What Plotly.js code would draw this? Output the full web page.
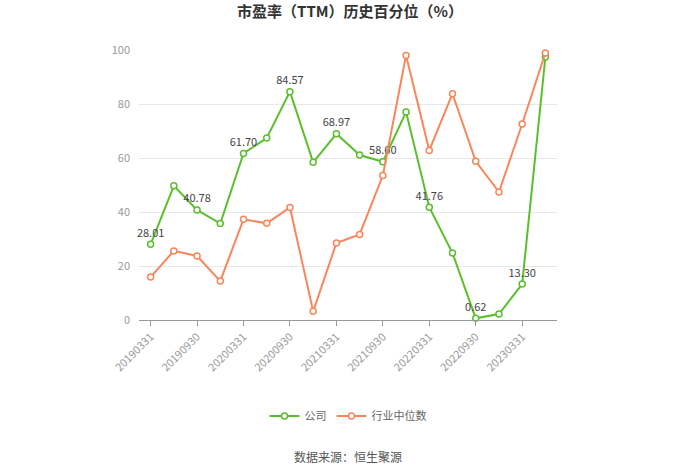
<!DOCTYPE html>
<html>
<head>
<meta charset="utf-8">
<script src="https://cdn.plot.ly/plotly-3.0.1.min.js"></script>
<style>html,body{margin:0;padding:0;background:#fff;}#chart{width:700px;height:474px;}</style>
</head>
<body>
<div id="chart"></div>
<script>
const categories = ["20190331","20190630","20190930","20191231","20200331","20200630","20200930","20201231","20210331","20210630","20210930","20211231","20220331","20220630","20220930","20221231","20230331","20230630"];
const companyValues = [28.01,49.7,40.78,35.7,61.70,67.4,84.57,58.4,68.97,61.1,58.60,77.0,41.76,24.8,0.62,2.2,13.30,97.4];
const industryValues = [15.9,25.6,23.7,14.4,37.3,35.8,41.7,3.2,28.5,31.7,53.5,98.0,62.8,83.8,58.8,47.4,72.6,98.9];
const labeledIdx = [0,2,4,6,8,10,12,14,16];
const tickLabels = ["20190331","20190930","20200331","20200930","20210331","20210930","20220331","20220930","20230331"];
const yTicks = [0,20,40,60,80,100];

const greenC = "#5bbf2d";
const orangeC = "#f7875a";
const fontFam = "'Noto Sans CJK SC', 'Noto Sans', sans-serif";

const companyText = companyValues.map((v,i)=> labeledIdx.includes(i) ? v.toFixed(2) : "");

const traces = [
  {
    x: categories, y: companyValues, name: "公司", type: "scatter",
    mode: "lines+markers+text",
    text: companyText, textposition: "top center",
    textfont: {family: fontFam, size: 11, color: "#444"},
    line: {color: greenC, width: 2},
    marker: {symbol: "circle", size: 6, color: "#fff", line: {color: greenC, width: 1.5}},
    cliponaxis: false
  },
  {
    x: categories, y: industryValues, name: "行业中位数", type: "scatter",
    mode: "lines+markers",
    line: {color: orangeC, width: 2},
    marker: {symbol: "circle", size: 6, color: "#fff", line: {color: orangeC, width: 1.5}},
    cliponaxis: false
  }
];

const layout = {
  width: 700, height: 474,
  margin: {l: 139, r: 143, t: 50, b: 154},
  paper_bgcolor: "#fff", plot_bgcolor: "#fff",
  font: {family: fontFam, color: "#999"},
  title: {text: "<b>市盈率（TTM）历史百分位（%）</b>", font: {family: fontFam, size: 15, color: "#333"}, x: 0.5, xanchor: "center", y: 0.975, yanchor: "middle"},
  xaxis: {
    type: "category", categoryorder: "array", categoryarray: categories,
    range: [-0.5, categories.length - 0.5],
    tickmode: "array", tickvals: tickLabels, ticktext: tickLabels,
    tickangle: -45, tickfont: {size: 11, color: "#999"},
    ticks: "outside", ticklen: 5, tickcolor: "#999",
    showline: true, linecolor: "#999", linewidth: 1,
    showgrid: false, zeroline: false, fixedrange: true
  },
  yaxis: {
    range: [0, 100], tickvals: yTicks,
    tickfont: {size: 11, color: "#999"},
    showgrid: true, gridcolor: "#e8e8e8", gridwidth: 1,
    showline: false, zeroline: false, ticks: "", ticklabelstandoff: 8, fixedrange: true
  },
  showlegend: true,
  legend: {orientation: "h", x: 0.5, xanchor: "center", y: -0.356, yanchor: "middle",
    font: {family: fontFam, size: 11, color: "#666"}, itemwidth: 30},
  annotations: [
    {text: "数据来源：恒生聚源", xref: "paper", yref: "paper", x: 0.5, y: -0.504, xanchor: "center", yanchor: "middle",
     showarrow: false, font: {family: fontFam, size: 12, color: "#555"}}
  ]
};

Plotly.newPlot("chart", traces, layout, {displayModeBar: false, staticPlot: true});
</script>
</body>
</html>
